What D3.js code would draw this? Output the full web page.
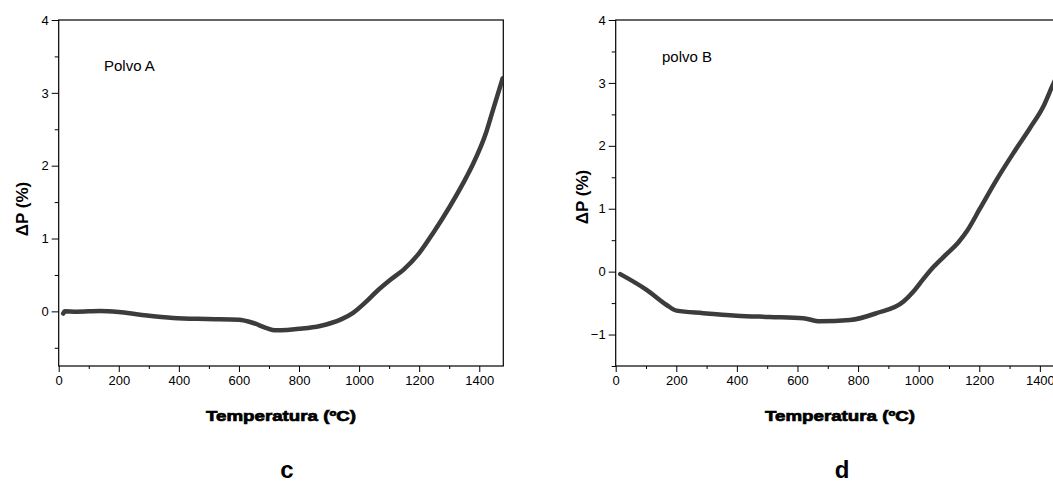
<!DOCTYPE html>
<html><head><meta charset="utf-8">
<script src="https://cdn.jsdelivr.net/npm/d3@7"></script>
<style>
body{margin:0;background:#fff;}
svg{display:block;}
text{font-family:"Liberation Sans",Arial,sans-serif;}
</style></head>
<body><svg id="chart" width="1053" height="483"></svg>
<script>
// Panel c: Polvo A
const tempA = [15, 20, 60, 137, 200, 271, 381, 492, 600, 648, 692, 720, 760, 800, 870, 940, 980, 1020, 1060, 1100, 1150, 1200, 1247, 1302, 1358, 1380, 1424, 1446, 1478];
const dpA   = [-0.03, 0.0, -0.005, 0.005, -0.01, -0.045, -0.09, -0.105, -0.115, -0.16, -0.23, -0.26, -0.255, -0.24, -0.20, -0.11, -0.02, 0.12, 0.28, 0.42, 0.58, 0.80, 1.08, 1.44, 1.85, 2.03, 2.47, 2.77, 3.2];
// Panel d: polvo B
const tempB = [15, 102, 168, 201, 289, 399, 509, 619, 674, 773, 861, 949, 982, 1015, 1050, 1090, 1130, 1160, 1202, 1257, 1312, 1367, 1411, 1442, 1475];
const dpB   = [-0.04, -0.29, -0.53, -0.62, -0.66, -0.70, -0.72, -0.74, -0.79, -0.77, -0.66, -0.48, -0.32, -0.12, 0.08, 0.27, 0.46, 0.65, 1.00, 1.46, 1.88, 2.28, 2.62, 2.96, 3.3];

const xTicks = [0, 200, 400, 600, 800, 1000, 1200, 1400];
const xMinor = [100, 300, 500, 700, 900, 1100, 1300];
const yTicksA = [0, 1, 2, 3, 4];
const yMinorA = [-0.5, 0.5, 1.5, 2.5, 3.5];
const yTicksB = [-1, 0, 1, 2, 3, 4];
const yMinorB = [-1.5, -0.5, 0.5, 1.5, 2.5, 3.5];

const xTitle = "Temperatura (ºC)";
const yTitle = "ΔP (%)";

const svg = d3.select("#chart");

function panel(cfg){
  const x = d3.scaleLinear().domain([0,1480]).range([cfg.left, cfg.left + cfg.w]);
  const y = d3.scaleLinear().domain(cfg.yDomain).range([366, 20]);
  const g = svg.append("g");

  g.append("g").attr("transform","translate(0,366)")
    .call(d3.axisBottom(x).tickValues(xMinor).tickSize(3).tickFormat(""))
    .call(s=>s.select(".domain").remove());
  g.append("g").attr("transform",`translate(${cfg.left},0)`)
    .call(d3.axisLeft(y).tickValues(cfg.yMinor).tickSize(4).tickFormat(""))
    .call(s=>s.select(".domain").remove());
  const xa = g.append("g").attr("transform","translate(0,366)")
    .call(d3.axisBottom(x).tickValues(xTicks).tickSize(6).tickPadding(4).tickFormat(d3.format("d")));
  xa.select(".domain").remove();
  xa.selectAll("text").attr("font-size",13).attr("font-family","Liberation Sans, Arial, sans-serif").attr("fill","#000");
  const ya = g.append("g").attr("transform",`translate(${cfg.left},0)`)
    .call(d3.axisLeft(y).tickValues(cfg.yTicks).tickSize(7).tickPadding(3).tickFormat(d3.format("d")));
  ya.select(".domain").remove();
  ya.selectAll("text").attr("font-size",13).attr("font-family","Liberation Sans, Arial, sans-serif").attr("fill","#000");

  g.append("rect").attr("x",cfg.left).attr("y",20).attr("width",cfg.w).attr("height",346)
    .attr("fill","none").attr("stroke","#000").attr("stroke-width",1.2);

  const data = cfg.t.map((t,i)=>[t,cfg.v[i]]);
  const clipId = "clip"+cfg.id;
  svg.append("clipPath").attr("id",clipId).append("rect")
    .attr("x",cfg.left).attr("y",18).attr("width",cfg.w).attr("height",350);
  g.append("path").datum(data)
    .attr("clip-path",`url(#${clipId})`)
    .attr("fill","none").attr("stroke","#3c3c3c").attr("stroke-width",4.5)
    .attr("stroke-linecap","round").attr("stroke-linejoin","round")
    .attr("d", d3.line().x(d=>x(d[0])).y(d=>y(d[1])).curve(d3.curveMonotoneX));

  g.append("text").attr("x",cfg.labelX).attr("y",cfg.labelY).attr("font-size",15).text(cfg.label);
  g.append("text").attr("transform",`translate(${cfg.yTitleX},${cfg.yTitleY}) rotate(-90)`)
    .attr("text-anchor","middle").attr("font-size",17).attr("font-weight","bold").text(yTitle);
  g.append("text").attr("x",cfg.xTitleX).attr("y",421).attr("text-anchor","middle")
    .attr("font-size",15).attr("font-weight","bold").attr("stroke","#000").attr("stroke-width",0.7)
    .attr("textLength",150).attr("lengthAdjust","spacingAndGlyphs").text(xTitle);
  g.append("text").attr("x",cfg.letterX).attr("y",478).attr("text-anchor","middle")
    .attr("font-size",24).attr("font-weight","bold").text(cfg.letter);
}

panel({id:"A", left:58.7, w:444.6, yDomain:[-0.75,4], yTicks:yTicksA, yMinor:yMinorA,
  t:tempA, v:dpA, label:"Polvo A", labelX:104, labelY:71, yTitleX:28, yTitleY:209,
  xTitleX:281, letter:"c", letterX:287});
panel({id:"B", left:615.7, w:448.4, yDomain:[-1.5,4], yTicks:yTicksB, yMinor:yMinorB,
  t:tempB, v:dpB, label:"polvo B", labelX:662, labelY:62, yTitleX:588, yTitleY:197,
  xTitleX:840, letter:"d", letterX:842});
</script>
</body></html>
